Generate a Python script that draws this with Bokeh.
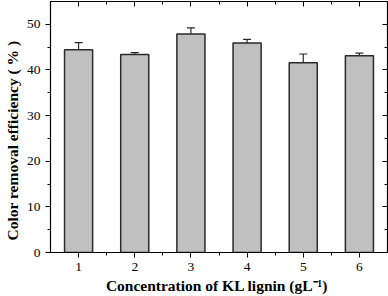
from bokeh.plotting import figure
from bokeh.models import (Range1d, FixedTicker, LinearAxis, ColumnDataSource,
                          Whisker, TeeHead, CustomJSTickFormatter)
from bokeh.embed import file_html
from bokeh.resources import INLINE

concentration = [1, 2, 3, 4, 5, 6]
efficiency = [44.4, 43.4, 47.9, 45.9, 41.6, 43.1]
error = [1.6, 0.4, 1.3, 0.8, 1.9, 0.6]
y_ticks = [0, 10, 20, 30, 40, 50]
y_minor = [5, 15, 25, 35, 45]
x_ticks = [1, 2, 3, 4, 5, 6]
x_minor = [1.5, 2.5, 3.5, 4.5, 5.5]

upper = [e + d for e, d in zip(efficiency, error)]
src = ColumnDataSource(dict(x=concentration, y=efficiency, upper=upper))

FONT = "Liberation Serif"

p = figure(width=388, height=296, output_backend="svg", toolbar_location=None,
           x_range=Range1d(0.5, 6.5), y_range=Range1d(0, 55),
           min_border_left=49, min_border_right=1, min_border_top=1,
           min_border_bottom=44)
p.grid.visible = False
p.outline_line_color = "#000000"
p.outline_line_width = 1.2
p.background_fill_color = "white"
p.border_fill_color = "white"

p.vbar(x="x", top="y", width=0.5, bottom=0, source=src,
       fill_color="#c0c0c0", line_color="#2a2a2a", line_width=1.5)

w = Whisker(base="x", lower="y", upper="upper", source=src,
            line_color="#2a2a2a", line_width=1.2,
            upper_head=TeeHead(size=8, line_color="#2a2a2a", line_width=1.2),
            lower_head=None)
p.add_layout(w)

for ax in (p.xaxis[0], p.yaxis[0]):
    ax.major_label_text_font = FONT
    ax.major_label_text_font_size = "13.5px"
    ax.major_label_text_color = "#000000"
    ax.axis_label_text_font = FONT
    ax.axis_label_text_font_style = "bold"
    ax.axis_label_text_font_size = "15.5px"
    ax.axis_label_text_color = "#000000"
    ax.axis_line_color = "#000000"
    ax.major_tick_line_color = "#000000"
    ax.minor_tick_line_color = "#000000"
    ax.major_tick_out = 5
    ax.major_tick_in = 0
    ax.minor_tick_out = 3
    ax.minor_tick_in = 0
    ax.major_label_standoff = 5

p.xaxis.ticker = FixedTicker(ticks=x_ticks, minor_ticks=x_minor)
p.yaxis.ticker = FixedTicker(ticks=y_ticks, minor_ticks=y_minor)
p.xaxis.axis_label = "Concentration of KL lignin  (gL\u207b\u00b9)"
p.yaxis.axis_label = "Color removal efficiency ( % )" + "\u00a0" * 7
p.xaxis.axis_label_standoff = 3
p.yaxis.axis_label_standoff = 3

blank = CustomJSTickFormatter(code="return ''")
right = LinearAxis(ticker=FixedTicker(ticks=y_ticks, minor_ticks=y_minor),
                   formatter=blank, major_tick_in=5, major_tick_out=0,
                   minor_tick_in=3, minor_tick_out=0,
                   major_label_text_font_size="0px", major_label_standoff=0,
                   axis_line_color="#000000")
top = LinearAxis(ticker=FixedTicker(ticks=x_ticks, minor_ticks=x_minor),
                 formatter=blank, major_tick_in=5, major_tick_out=0,
                 minor_tick_in=3, minor_tick_out=0,
                 major_label_text_font_size="0px", major_label_standoff=0,
                 axis_line_color="#000000")
p.add_layout(right, "right")
p.add_layout(top, "above")

open("out.html", "w").write(file_html(p, INLINE))
